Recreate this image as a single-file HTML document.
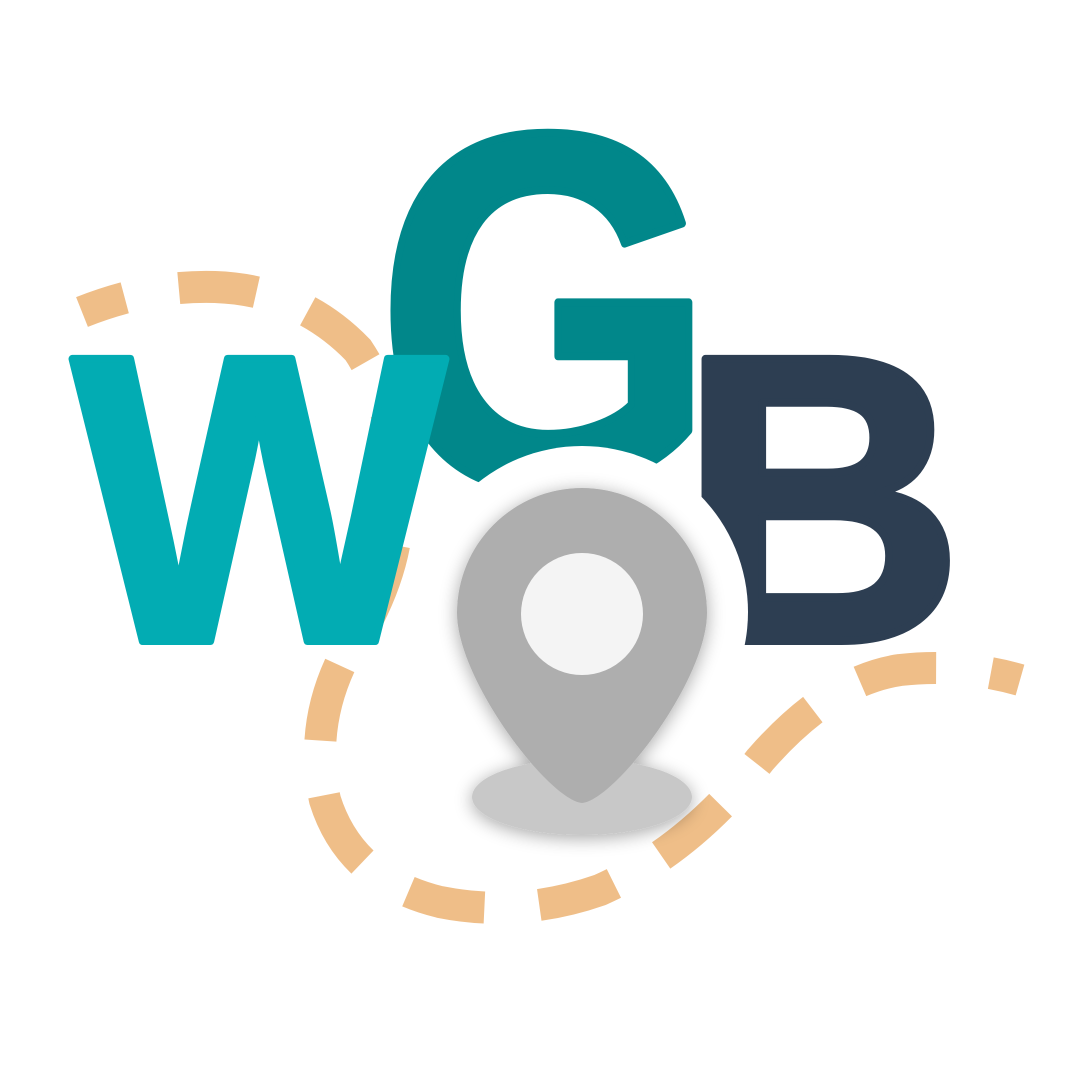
<!DOCTYPE html>
<html><head><meta charset="utf-8"><style>
html,body{margin:0;padding:0;background:#fff;width:1080px;height:1080px;overflow:hidden}
svg{display:block}
text{font-family:"Liberation Sans",sans-serif;font-weight:bold;stroke-width:8;stroke-linejoin:round}
</style></head><body>
<svg width="1080" height="1080" viewBox="0 0 1080 1080">
<defs>
<filter id="sh" x="-30%" y="-30%" width="160%" height="160%"><feGaussianBlur in="SourceAlpha" stdDeviation="9"/><feOffset dx="0" dy="3"/><feComponentTransfer><feFuncA type="linear" slope="0.35"/></feComponentTransfer><feMerge><feMergeNode/><feMergeNode in="SourceGraphic"/></feMerge></filter>
</defs>
<path d="M82,312 Q150,285 215,287 Q300,290 358,350 Q405,420 395,540 Q385,600 340,665 Q310,730 325,800 Q350,880 440,902 Q520,918 600,890 Q690,850 760,760 Q830,680 900,670 Q960,663 1020,680" fill="none" stroke="#EFBE88" stroke-width="32" stroke-dasharray="78 55" stroke-dashoffset="33"/>
<text x="376" y="486" font-size="506" fill="#01878A" stroke="#01878A" textLength="340" lengthAdjust="spacingAndGlyphs">G</text>
<text x="679" y="641" font-size="410" fill="#2D3E52" stroke="#2D3E52" textLength="285" lengthAdjust="spacingAndGlyphs">B</text>
<circle cx="582" cy="612" r="166" fill="#fff"/>
<text x="72" y="641" font-size="410" fill="#02ACB3" stroke="#02ACB3" textLength="374" lengthAdjust="spacingAndGlyphs">W</text>
<g filter="url(#sh)">
<ellipse cx="582" cy="797" rx="110" ry="38" fill="#C8C8C8"/>
<path d="M582,488 A125,125 0 0 1 707,613 C707,680 615,800 582,803 C549,800 457,680 457,613 A125,125 0 0 1 582,488 Z" fill="#AEAEAE"/>
<circle cx="582" cy="614" r="61" fill="#F4F4F4"/>
</g>
</svg>
</body></html>
